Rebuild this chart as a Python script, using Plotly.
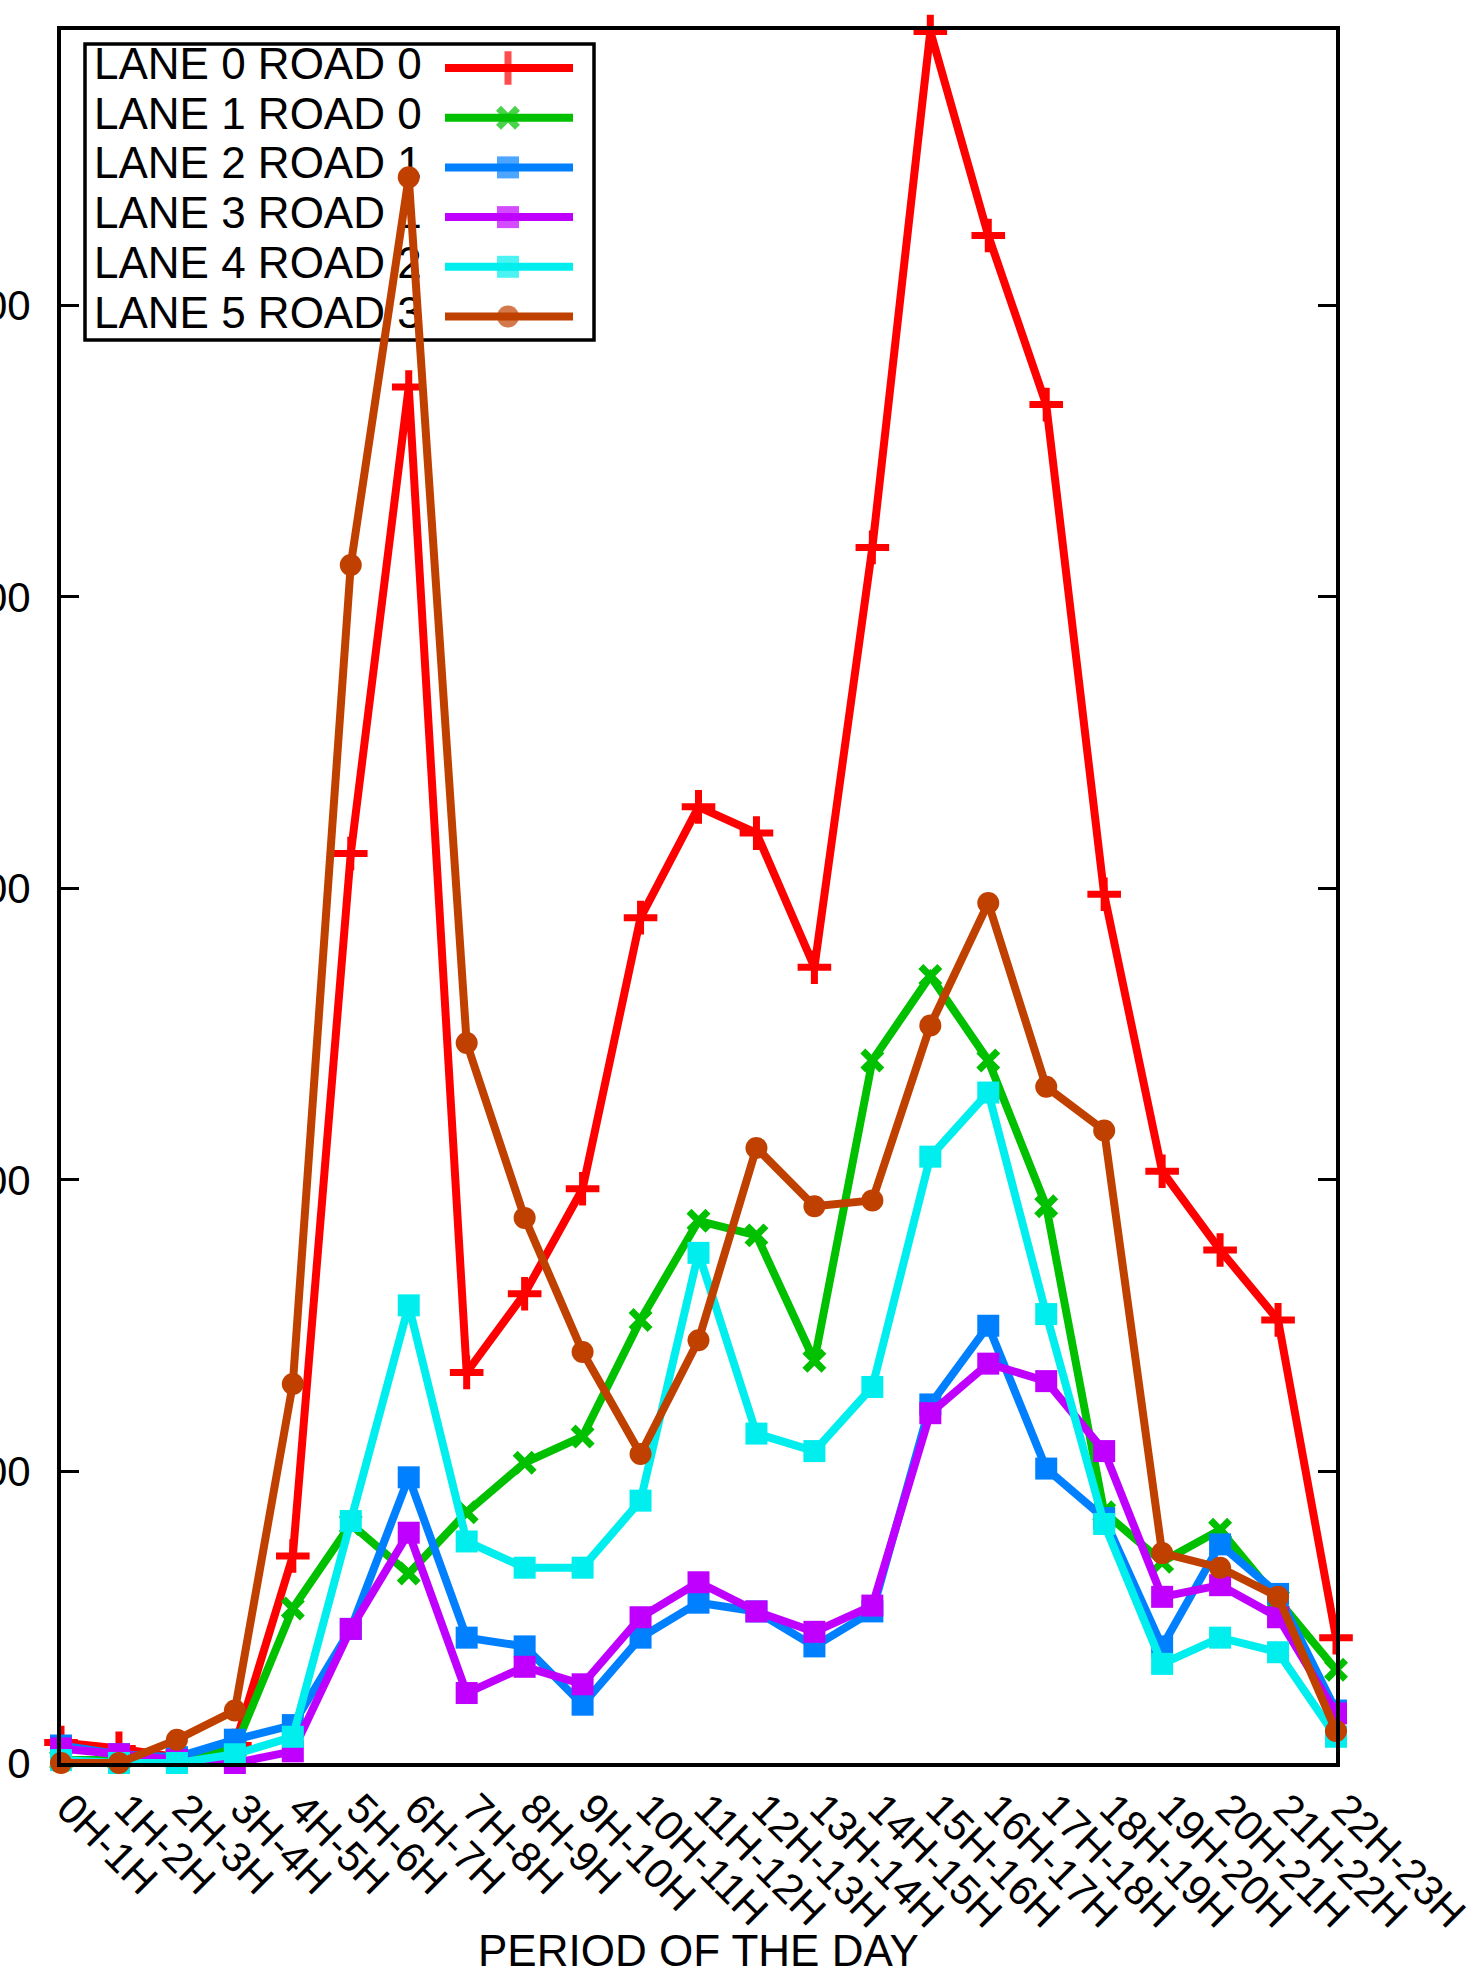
import plotly.graph_objects as go

# ---- data -------------------------------------------------------------
periods = ["0H-1H", "1H-2H", "2H-3H", "3H-4H", "4H-5H", "5H-6H", "6H-7H",
           "7H-8H", "8H-9H", "9H-10H", "10H-11H", "11H-12H", "12H-13H",
           "13H-14H", "14H-15H", "15H-16H", "16H-17H", "17H-18H", "18H-19H",
           "19H-20H", "20H-21H", "21H-22H", "22H-23H"]

lane0_road0 = [7, 5, 2, 6, 71, 312, 472, 134, 161, 197, 290, 328, 319, 273,
               417, 594, 524, 466, 298, 203, 176, 152, 43]
lane1_road0 = [1, 1, 2, 5, 53, 82, 65, 86, 103, 112, 152, 186, 181, 138,
               241, 270, 241, 191, 86, 69, 80, 56, 32]
lane2_road1 = [6, 3, 2, 8, 13, 46, 98, 43, 40, 20, 43, 55, 52, 40,
               52, 123, 150, 101, 84, 40, 75, 58, 18]
lane3_road1 = [5, 3, 1, 0, 4, 46, 79, 24, 33, 27, 50, 62, 52, 45,
               54, 120, 137, 131, 107, 57, 61, 50, 17]
lane4_road2 = [1, 0, 0, 3, 9, 83, 157, 76, 67, 67, 90, 175, 113, 107,
               129, 208, 230, 154, 82, 34, 43, 38, 9]
lane5_road3 = [0, 0, 8, 18, 130, 411, 544, 247, 187, 141, 106, 145, 211, 191,
               193, 253, 295, 232, 217, 72, 67, 57, 11]

series_names = ["LANE 0 ROAD 0", "LANE 1 ROAD 0", "LANE 2 ROAD 1",
                "LANE 3 ROAD 1", "LANE 4 ROAD 2", "LANE 5 ROAD 3"]
series_values = [lane0_road0, lane1_road0, lane2_road1,
                 lane3_road1, lane4_road2, lane5_road3]

y_ticks = [0, 100, 200, 300, 400, 500]

# ---- styling ----------------------------------------------------------
colors = ["#ff0000", "#00c000", "#0080ff", "#c000ff", "#00eeee", "#c04000"]
symbols = ["cross-thin", "x-thin", "square", "square", "square", "circle"]
sizes = [24, 19, 22, 22, 22, 22]
LINE_W = 8
FONT = "Liberation Sans, Arial, Helvetica, sans-serif"

W, H = 1476, 1970
ML, MR, MT, MB = 61, 140, 30, 207
PW, PH = W - ML - MR, H - MT - MB


def px_x(px):
    return (px - ML) / PW


def px_y(py):
    return (H - MB - py) / PH


def marker_for(i):
    thin = symbols[i].endswith("-thin")
    return dict(symbol=symbols[i], size=sizes[i], color=colors[i],
                line=dict(width=7 if thin else 0, color=colors[i]))


fig = go.Figure()

# ---- key (drawn on the base layer, beneath the data lines) ------------
key_left, key_right = px_x(85), px_x(594)
key_top, key_bottom = px_y(44), px_y(340)
row0, row_step = 68, 49.7
sample_x = [px_x(445), px_x(508), px_x(573)]
text_x = px_x(94)

for i, name in enumerate(series_names):
    ry = px_y(row0 + i * row_step)
    fig.add_trace(go.Scatter(
        x=[text_x], y=[ry], mode="text", text=[name],
        textposition="middle right",
        textfont=dict(family=FONT, size=44, color="black"),
        xaxis="x", yaxis="y", showlegend=False, hoverinfo="skip",
        cliponaxis=False))
    m = marker_for(i)
    m["size"] = [0, sizes[i], 0]
    fig.add_trace(go.Scatter(
        x=sample_x, y=[ry] * 3, mode="lines+markers",
        line=dict(color=colors[i], width=LINE_W), marker=m,
        xaxis="x", yaxis="y", showlegend=False, hoverinfo="skip",
        cliponaxis=False))

fig.add_shape(type="rect", xref="paper", yref="paper",
              x0=key_left, x1=key_right, y0=key_bottom, y1=key_top,
              line=dict(color="black", width=3.5), fillcolor="rgba(0,0,0,0)",
              layer="below")

# ---- data series ------------------------------------------------------
x_idx = list(range(len(periods)))
for i, name in enumerate(series_names):
    fig.add_trace(go.Scatter(
        x=x_idx, y=series_values[i], name=name, mode="lines+markers",
        line=dict(color=colors[i], width=LINE_W), marker=marker_for(i),
        xaxis="x2", yaxis="y2", showlegend=False, cliponaxis=False))

fig.add_annotation(text="PERIOD OF THE DAY", xref="paper", yref="paper",
                   x=0.5, y=px_y(1950), xanchor="center", yanchor="middle",
                   showarrow=False, font=dict(family=FONT, size=44, color="black"))

fig.update_layout(
    width=W, height=H, template="none",
    margin=dict(l=ML, r=MR, t=MT, b=MB, pad=0),
    paper_bgcolor="white", plot_bgcolor="white",
    showlegend=False,
    font=dict(family=FONT, size=42, color="black"),
    xaxis=dict(visible=False, range=[0, 1], fixedrange=True),
    yaxis=dict(visible=False, range=[0, 1], fixedrange=True),
    xaxis2=dict(overlaying="x", side="bottom", range=[0, len(periods) - 1],
                tickmode="array", tickvals=x_idx, ticktext=periods,
                tickangle=45, ticks="", showgrid=False, zeroline=False,
                showline=True, linecolor="black", linewidth=4, mirror=True,
                tickfont=dict(family=FONT, size=42, color="black"),
                ticklabelshift=8, automargin=False),
    yaxis2=dict(overlaying="y", side="left", range=[0, 594.5],
                tickmode="array", tickvals=y_ticks,
                ticks="inside", ticklen=18, tickwidth=2.5, tickcolor="black",
                showgrid=False, zeroline=False,
                showline=True, linecolor="black", linewidth=4, mirror="ticks",
                tickfont=dict(family=FONT, size=42, color="black"),
                ticklabelstandoff=18, automargin=False),
)

fig.write_html("out.html")
